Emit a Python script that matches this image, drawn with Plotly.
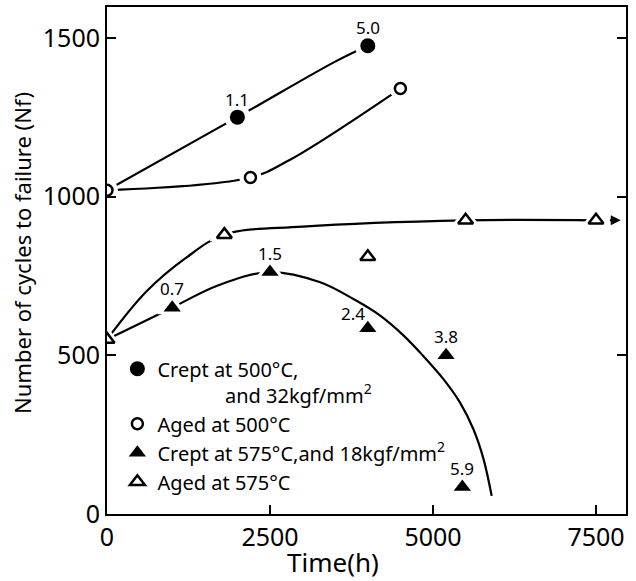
import plotly.graph_objects as go

# ---- data ----
crept500_t = [2000, 4000]
crept500_n = [1250, 1475]
crept500_lbl = ["1.1", "5.0"]

aged500_t = [0, 2200, 4500]
aged500_n = [1020, 1060, 1340]

crept575_t = [1000, 2500, 4000, 5200, 5450]
crept575_n = [650, 762, 585, 500, 85]
crept575_lbl = ["0.7", "1.5", "2.4", "3.8", "5.9"]

aged575_t = [0, 1800, 4000, 5500, 7500]
aged575_n = [550, 880, 810, 925, 925]

# hand-drawn fit curves
c_crept500_t = [0, 2000, 3500, 4000]
c_crept500_n = [1020, 1250, 1425, 1475]
c_aged500_t = [0, 2200, 2800, 4500]
c_aged500_n = [1020, 1060, 1115, 1340]
c_aged575_t = [0, 600, 1200, 1800, 3000, 5500, 7500]
c_aged575_n = [550, 700, 805, 880, 905, 925, 925]
c_crept575_t = [0, 1000, 1700, 2500, 3270, 3780, 4190, 4550, 4850, 5160, 5415, 5620, 5775, 5900]
c_crept575_n = [550, 650, 720, 762, 730, 677, 625, 562, 498, 425, 351, 267, 173, 57]

x_ticks = [0, 2500, 5000, 7500]
y_ticks = [0, 500, 1000, 1500]

FONT = "Noto Sans"
fig = go.Figure()

# curves
for t, n in [(c_crept500_t, c_crept500_n), (c_aged500_t, c_aged500_n),
             (c_aged575_t, c_aged575_n), (c_crept575_t, c_crept575_n)]:
    fig.add_trace(go.Scatter(x=t, y=n, mode="lines", showlegend=False,
                             line=dict(color="black", width=2.2, shape="spline", smoothing=1.0),
                             hoverinfo="skip"))

# white halos to create gaps in lines near markers
halo_sets = [(crept500_t, crept500_n, "circle", 26), (aged500_t, aged500_n, "circle", 22),
             (crept575_t, crept575_n, "triangle-up", 26), (aged575_t, aged575_n, "triangle-up", 26)]
for t, n, s, sz in halo_sets:
    fig.add_trace(go.Scatter(x=t, y=n, mode="markers", showlegend=False, hoverinfo="skip",
                             marker=dict(symbol=s, size=sz, color="white", line=dict(width=0))))

# marker series
fig.add_trace(go.Scatter(x=crept500_t, y=crept500_n, mode="markers",
                         name="Crept at 500°C,<br>             and 32kgf/mm<sup>2</sup>",
                         marker=dict(symbol="circle", size=15, color="black")))
fig.add_trace(go.Scatter(x=aged500_t, y=aged500_n, mode="markers", name="Aged at 500°C",
                         marker=dict(symbol="circle", size=11, color="white",
                                     line=dict(color="black", width=2.5))))
fig.add_trace(go.Scatter(x=crept575_t, y=crept575_n, mode="markers",
                         name="Crept at 575°C,and 18kgf/mm<sup>2</sup>",
                         marker=dict(symbol="triangle-up", size=15, color="black")))
fig.add_trace(go.Scatter(x=aged575_t, y=aged575_n, mode="markers", name="Aged at 575°C",
                         marker=dict(symbol="triangle-up", size=13, color="white",
                                     line=dict(color="black", width=2.5))))

# value labels
for t, n, l in zip(crept500_t, crept500_n, crept500_lbl):
    fig.add_annotation(x=t, y=n, text=l, showarrow=False, yshift=18,
                       font=dict(size=17, family=FONT, color="black"))
for t, n, l in zip(crept575_t, crept575_n, crept575_lbl):
    xs = -15 if l == "2.4" else 0
    ys = 15 if l == "2.4" else 19
    fig.add_annotation(x=t, y=n, text=l, showarrow=False, yshift=ys, xshift=xs,
                       font=dict(size=17, family=FONT, color="black"))

# arrow after last aged 575 point
fig.add_annotation(x=7880, y=aged575_n[-1], ax=7690, ay=aged575_n[-1], axref="x", ayref="y",
                   xref="x", yref="y", text="", showarrow=True, arrowhead=2, arrowsize=1,
                   arrowwidth=2, arrowcolor="black")

# axis titles
fig.add_annotation(xref="paper", yref="paper", x=0, y=0.515, xshift=-85, textangle=-90,
                   text="Number of cycles to failure (Nf)", showarrow=False,
                   xanchor="center", yanchor="middle", font=dict(size=22, family=FONT))
fig.add_annotation(xref="paper", yref="paper", x=0.435, y=0, yshift=-48,
                   text="Time(h)", showarrow=False, xanchor="center", yanchor="middle",
                   font=dict(size=26, family=FONT))

fig.update_layout(
    width=636, height=581,
    margin=dict(l=107, r=10, t=7, b=67, autoexpand=False),
    paper_bgcolor="white", plot_bgcolor="white",
    font=dict(family=FONT, color="black"),
    showlegend=True,
    legend=dict(x=0.02, y=0.325, xanchor="left", yanchor="top",
                bgcolor="rgba(0,0,0,0)", font=dict(size=20, family=FONT),
                tracegroupgap=0, itemwidth=30, valign="top"),
    xaxis=dict(range=[0, 7960], tickvals=x_ticks, ticks="inside", ticklen=9, tickwidth=1.5,
               tickcolor="black", showgrid=False, zeroline=False,
               showline=True, linecolor="black", linewidth=2, mirror=True,
               tickfont=dict(size=25, family=FONT), automargin=False),
    yaxis=dict(range=[0, 1597], tickvals=y_ticks, ticks="inside", ticklen=9, tickwidth=1.5,
               tickcolor="black", showgrid=False, zeroline=False,
               showline=True, linecolor="black", linewidth=2, mirror="ticks",
               tickfont=dict(size=25, family=FONT), automargin=False),
)

fig.write_html("out.html", config={"displayModeBar": False},
               post_script="document.body.style.margin='0px';")
